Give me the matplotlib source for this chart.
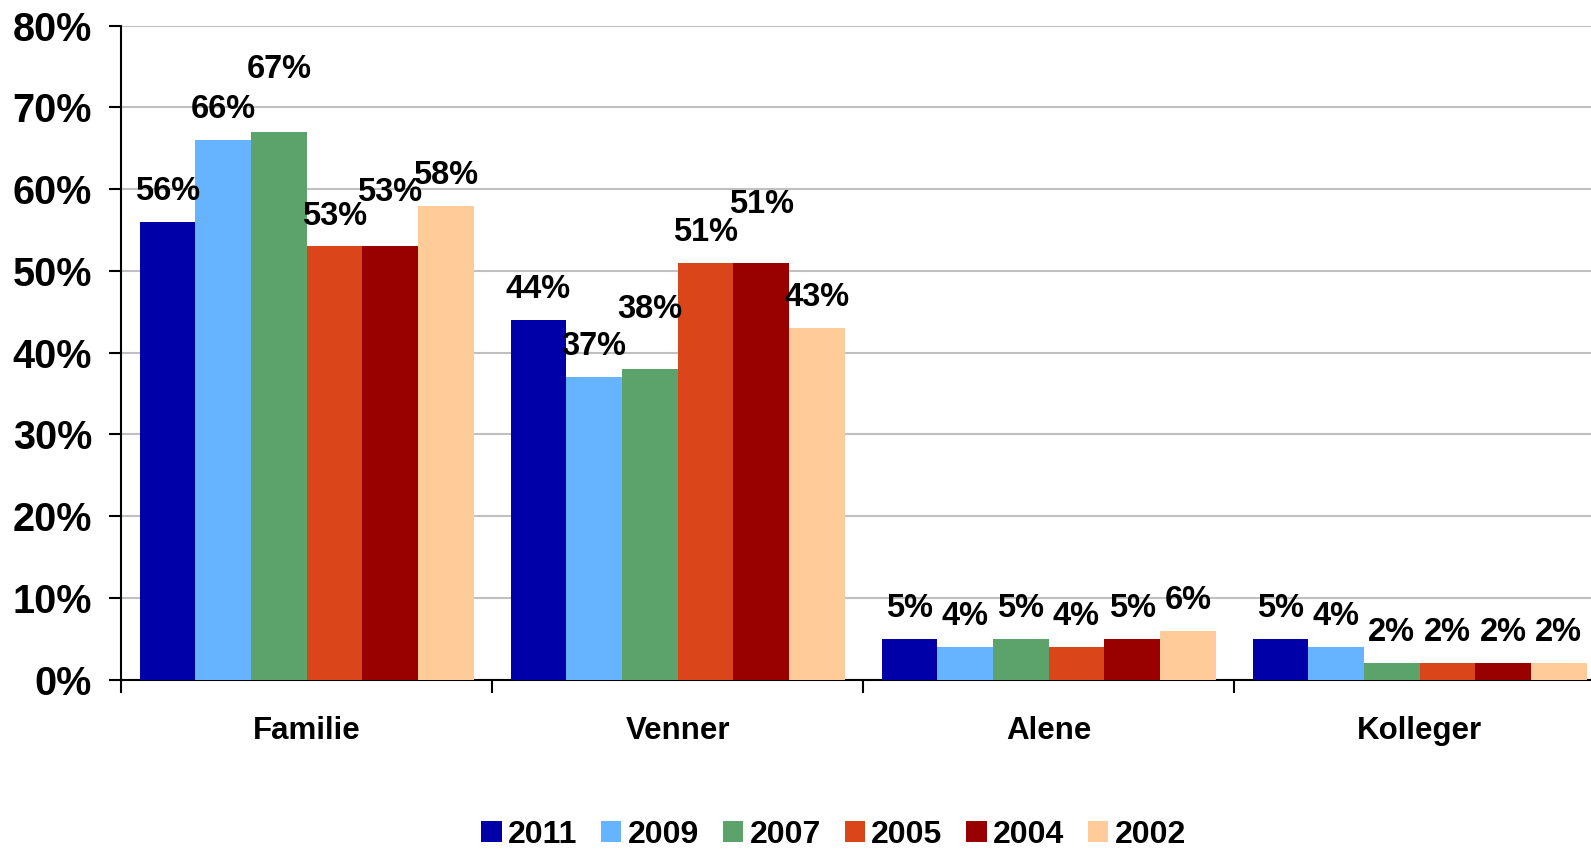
import matplotlib
matplotlib.use("Agg")
import matplotlib.pyplot as plt
import numpy as np

plt.rcParams['font.family'] = ['Liberation Sans', 'DejaVu Sans']
plt.rcParams['font.weight'] = 'bold'

categories = ['Familie', 'Venner', 'Alene', 'Kolleger']
years = ['2011', '2009', '2007', '2005', '2004', '2002']
colors = ['#0000A8', '#66B3FF', '#5BA36A', '#DA4619', '#990000', '#FFCC99']

# values in percent, one list per year
v2011 = [56, 44, 5, 5]
v2009 = [66, 37, 4, 4]
v2007 = [67, 38, 5, 2]
v2005 = [53, 51, 4, 2]
v2004 = [53, 51, 5, 2]
v2002 = [58, 43, 6, 2]
series = [v2011, v2009, v2007, v2005, v2004, v2002]

# label offsets above bar top (points); Excel pushed a few labels up
base_off = 15.8
extra_off = {(2, 0): 38.7, (4, 0): 32.4, (2, 1): 36.5, (4, 1): 36.2}

fig = plt.figure(figsize=(15.91, 8.52), dpi=100)
ax = fig.add_axes([0.0761, 0.2022, 0.9328, 0.7676])

x = np.arange(len(categories))
n = len(series)
w = 0.9 / n

handles = []
for i, vals in enumerate(series):
    pos = x - 0.45 + w * (i + 0.5)
    b = ax.bar(pos, vals, width=w, color=colors[i], linewidth=0, zorder=3)
    handles.append(b)
    for j, v in enumerate(vals):
        off = extra_off.get((i, j), base_off)
        ax.annotate(f'{v}%', (pos[j], v), xytext=(0, off), textcoords='offset points',
                    ha='center', va='baseline', fontsize=23.5, fontweight='bold', zorder=4)

ax.set_xlim(-0.5, len(categories) - 0.5)
ax.set_ylim(0, 80)
ax.set_yticks(np.arange(0, 81, 10))
ax.set_yticklabels([f'{t}%' for t in range(0, 81, 10)], fontsize=28.5, fontweight='bold')
ax.yaxis.grid(True, color='#C0C0C0', linewidth=1.5, zorder=0)
ax.set_axisbelow(True)

ax.set_xticks(x)
ax.set_xticklabels(categories, fontsize=22.5, fontweight='bold')
ax.set_xticks(np.arange(-0.5, len(categories), 1.0), minor=True)
ax.tick_params(axis='x', which='major', length=0, pad=26)
ax.tick_params(axis='x', which='minor', length=9.4, width=1.5, direction='out')
ax.tick_params(axis='y', length=9, width=1.5, direction='out', pad=12)

for s in ['top', 'right']:
    ax.spines[s].set_visible(False)
for s in ['left', 'bottom']:
    ax.spines[s].set_linewidth(1.5)
    ax.spines[s].set_color('black')

fig.legend(handles, years, ncol=6, loc='center', bbox_to_anchor=(0.524, 0.02),
           frameon=False, prop={'size': 23, 'weight': 'bold'}, borderpad=0.1,
           handlelength=0.63, handleheight=0.63, handletextpad=0.2, columnspacing=0.75)

fig.savefig('out.png', dpi=100)
